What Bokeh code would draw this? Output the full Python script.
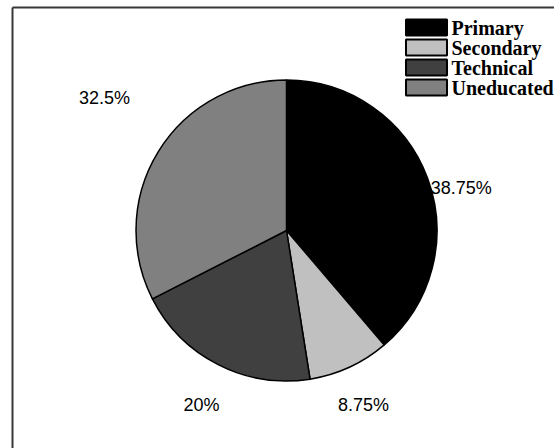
import numpy as np
from bokeh.plotting import figure
from bokeh.models import Range1d, ColumnDataSource
from bokeh.core.properties import value
from bokeh.embed import file_html
from bokeh.resources import INLINE

# ---- data ----
categories = ["Primary", "Secondary", "Technical", "Uneducated"]
shares = [38.75, 8.75, 20.0, 32.5]
label_texts = ["38.75%", "8.75%", "20%", "32.5%"]
colors = ["#000000", "#c0c0c0", "#404040", "#808080"]

W, H = 554, 448
p = figure(width=W, height=H, output_backend="svg", toolbar_location=None,
           x_range=Range1d(0, W), y_range=Range1d(0, H), min_border=0)
p.axis.visible = False
p.grid.visible = False
p.outline_line_color = None
p.background_fill_color = "white"
p.border_fill_color = "white"

# layout (pixel space, y measured from top -> flip)
def Y(py):
    return H - py

cx, cy, r = 286, Y(230), 150.5

total = sum(shares)
fr = np.array(shares) / total
cum = np.concatenate([[0], np.cumsum(fr)])
start = np.pi / 2 - 2 * np.pi * cum[:-1]
end = np.pi / 2 - 2 * np.pi * cum[1:]

src = ColumnDataSource(dict(start=start, end=end, color=colors, cat=categories))
p.wedge(x=cx, y=cy, radius=r, start_angle="start", end_angle="end",
        direction="clock", fill_color="color", line_color="black",
        line_width=1.5, source=src)

# labels: positioned from mid angle of each slice
label_r = [180, 191, 194, 225]
label_shift = [6.5, 1, -1, 4.5]  # degrees clockwise
mid_clock = 360 * (cum[:-1] + cum[1:]) / 2 + np.array(label_shift)
th = np.deg2rad(mid_clock)
lx = cx + np.array(label_r) * np.sin(th)
ly = cy + np.array(label_r) * np.cos(th)
p.text(x=lx, y=ly, text=label_texts, text_align="center",
       text_baseline="middle", text_font=value("Liberation Sans"),
       text_font_size="18px", text_color="black")

# frame
p.segment(x0=[12, 12], y0=[Y(7), Y(7)], x1=[W, 12], y1=[Y(7), 0],
          line_color="#383838", line_width=2)

# legend
row0, dy = 27, 20
ys = [Y(row0 + i * dy) for i in range(len(categories))]
p.rect(x=[426] * 4, y=ys, width=41, height=16, fill_color=colors,
       line_color="black", line_width=2)
p.text(x=[451] * 4, y=ys, text=categories, text_align="left",
       text_baseline="middle", text_font=value("Liberation Serif"),
       text_font_style="bold", text_font_size="20px", text_color="black")

open("out.html", "w").write(file_html(p, INLINE))
